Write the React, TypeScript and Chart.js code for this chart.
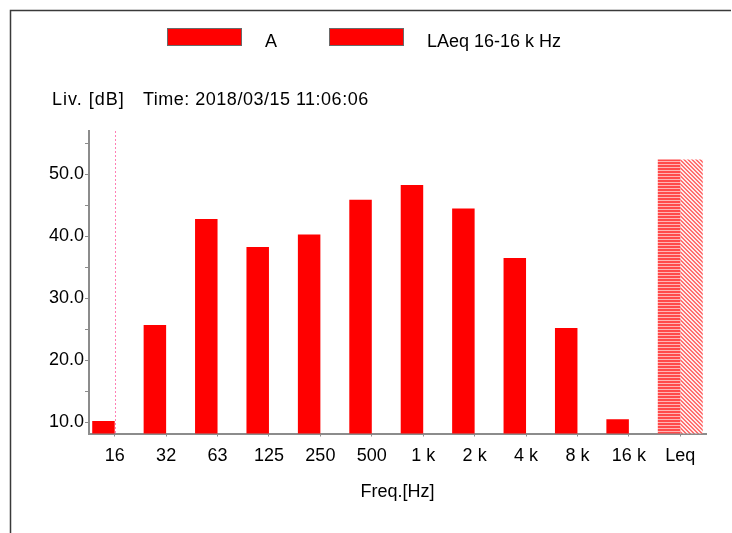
import React, { useEffect, useRef } from 'react';
import { Chart, registerables } from 'chart.js';

Chart.register(...registerables);

// ---- data ----
const categories = ['16', '32', '63', '125', '250', '500', '1 k', '2 k', '4 k', '8 k', '16 k', 'Leq'];
const seriesA = [10.2, 25.7, 42.8, 38.3, 40.3, 45.9, 48.3, 44.5, 36.5, 25.2, 10.5, 52.4];
const seriesLAeq = [null, null, null, null, null, null, null, null, null, null, null, 52.4];
const yTickValues = [10, 15, 20, 25, 30, 35, 40, 45, 50, 55];
const legendLabels = ['A', 'LAeq 16-16 k Hz'];
const levelLabel = 'Liv. [dB]';
const timeLabel = 'Time: 2018/03/15 11:06:06';
const xTitle = 'Freq.[Hz]';
const Y_MIN = 8.2;
const Y_MAX = 57;

const FONT = '"Liberation Sans", Arial, sans-serif';
const RED = '#ff0000';
const AXIS = '#8c8c8c';

function stripePattern(ctx: CanvasRenderingContext2D) {
  const c = document.createElement('canvas');
  c.width = 4;
  c.height = 3;
  const g = c.getContext('2d')!;
  g.fillStyle = '#ffb4b4';
  g.fillRect(0, 0, 4, 3);
  g.fillStyle = '#ff4a4a';
  g.fillRect(0, 0, 4, 2);
  return ctx.createPattern(c, 'repeat')!;
}

function hatchPattern(ctx: CanvasRenderingContext2D) {
  const c = document.createElement('canvas');
  c.width = 4;
  c.height = 4;
  const g = c.getContext('2d')!;
  g.fillStyle = '#ffeaea';
  g.fillRect(0, 0, 4, 4);
  g.fillStyle = '#ff7070';
  for (let y = 0; y < 4; y++) {
    for (let x = 0; x < 4; x++) {
      if (((x - y + 8) % 4) < 2) g.fillRect(x, y, 1, 1);
    }
  }
  return ctx.createPattern(c, 'repeat')!;
}

export default function App() {
  const ref = useRef<HTMLCanvasElement>(null);

  useEffect(() => {
    const canvas = ref.current!;
    const ctx = canvas.getContext('2d')!;
    const stripe = stripePattern(ctx);
    const hatch = hatchPattern(ctx);
    const aColors = seriesA.map((_, i) => (i === seriesA.length - 1 ? stripe : RED));

    const overlay = {
      id: 'overlay',
      beforeDraw(chart: any) {
        const c = chart.ctx;
        c.save();
        c.fillStyle = '#fff';
        c.fillRect(0, 0, chart.width, chart.height);
        c.strokeStyle = '#3a3a3a';
        c.lineWidth = 1.5;
        c.beginPath();
        c.moveTo(10.5, chart.height);
        c.lineTo(10.5, 10.5);
        c.lineTo(chart.width - 1, 10.5);
        c.stroke();
        c.restore();
      },
      afterDatasetsDraw(chart: any) {
        const c = chart.ctx;
        const xs = chart.scales.x;
        const { top, bottom } = chart.chartArea;
        const x = Math.round(xs.getPixelForValue(0)) + 0.5;
        c.save();
        c.strokeStyle = '#ff7fb4';
        c.lineWidth = 1;
        c.setLineDash([2, 2]);
        c.beginPath();
        c.moveTo(x, top);
        c.lineTo(x, bottom);
        c.stroke();
        c.restore();
      },
      afterDraw(chart: any) {
        const c = chart.ctx;
        c.save();
        c.font = `18px ${FONT}`;
        c.textBaseline = 'alphabetic';
        c.textAlign = 'left';
        // legend
        const boxes = [167, 329];
        const texts = [265, 427];
        legendLabels.forEach((t, i) => {
          c.fillStyle = RED;
          c.fillRect(boxes[i], 28, 75, 18);
          c.strokeStyle = '#6a6a6a';
          c.lineWidth = 1;
          c.strokeRect(boxes[i] + 0.5, 28.5, 74, 17);
          c.fillStyle = '#000';
          c.fillText(t, texts[i], 47);
        });
        // header
        c.fillStyle = '#000';
        (c as any).letterSpacing = '1px';
        c.fillText(levelLabel, 52, 105);
        (c as any).letterSpacing = '0.5px';
        c.fillText(timeLabel, 143, 105);
        (c as any).letterSpacing = '0px';
        c.restore();
      },
    };

    const chart = new Chart(canvas, {
      type: 'bar',
      data: {
        labels: categories,
        datasets: [
          {
            label: legendLabels[0],
            data: seriesA,
            backgroundColor: aColors as any,
            borderWidth: 0,
          },
          {
            label: legendLabels[1],
            data: seriesLAeq as any,
            backgroundColor: hatch as any,
            borderWidth: 0,
          },
        ],
      },
      options: {
        animation: false,
        responsive: false,
        devicePixelRatio: 1,
        layout: { padding: { top: 131, right: 26, left: 0, bottom: 0 } },
        plugins: {
          legend: { display: false },
          title: { display: false },
          tooltip: { enabled: false },
        },
        datasets: {
          bar: { categoryPercentage: 0.875, barPercentage: 1 },
        },
        scales: {
          x: {
            type: 'category',
            offset: true,
            grid: {
              display: true,
              drawOnChartArea: false,
              drawTicks: true,
              tickLength: 3,
              offset: false,
              color: AXIS,
            },
            border: { display: true, color: AXIS, width: 2 },
            ticks: {
              color: '#000',
              font: { family: FONT, size: 18 },
              padding: 9,
              maxRotation: 0,
              autoSkip: false,
            },
            title: {
              display: true,
              text: xTitle,
              color: '#000',
              font: { family: FONT, size: 18 },
              padding: { top: 0, bottom: 30 },
            },
            afterFit(scale: any) {
              scale.height = 99.5;
            },
          },
          y: {
            type: 'linear',
            min: Y_MIN,
            max: Y_MAX,
            grid: {
              display: true,
              drawOnChartArea: false,
              drawTicks: true,
              tickLength: 4,
              color: AXIS,
            },
            border: { display: true, color: AXIS, width: 2 },
            ticks: {
              color: '#000',
              font: { family: FONT, size: 18 },
              padding: 1,
              autoSkip: false,
              callback: (v: any) => (Number(v) % 10 === 0 ? Number(v).toFixed(1) : ''),
            },
            afterBuildTicks(scale: any) {
              scale.ticks = yTickValues.map((v) => ({ value: v }));
            },
            afterFit(scale: any) {
              scale.width = 89;
            },
          },
        },
      },
      plugins: [overlay],
    } as any);

    return () => chart.destroy();
  }, []);

  return (
    <div style={{ position: 'fixed', left: 0, top: 0, width: 732, height: 533, background: '#fff' }}>
      <canvas ref={ref} width={732} height={533} style={{ display: 'block', width: 732, height: 533 }} />
    </div>
  );
}
